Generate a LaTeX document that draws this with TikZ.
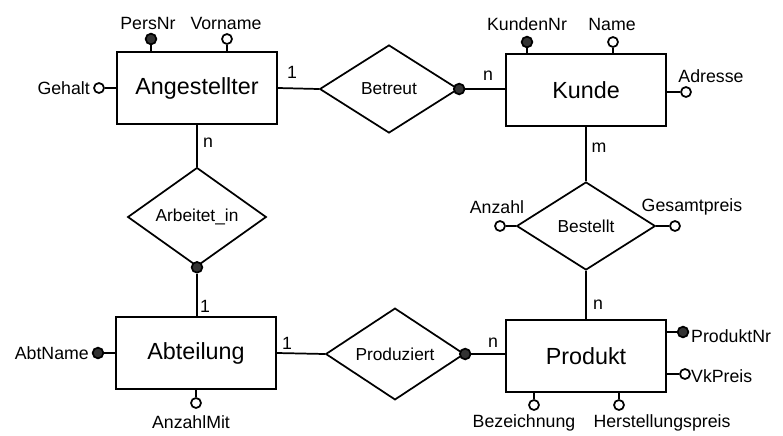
\documentclass[tikz,border=0pt]{standalone}
\usepackage{fontspec}
\setmainfont{Liberation Sans}
\usetikzlibrary{shapes.geometric}
\tikzset{
  entity/.style={draw, rectangle, minimum width=120pt, minimum height=54pt, font=\fontsize{17.5}{20}\selectfont},
  relship/.style={draw, diamond, minimum width=104pt, minimum height=66pt, inner sep=0pt, font=\fontsize{13}{15}\selectfont},
  keydot/.style={circle, draw, fill=black!80, inner sep=0pt, minimum size=8pt},
  attrdot/.style={circle, draw, fill=white, inner sep=0pt, minimum size=7.5pt},
  attrlbl/.style={inner sep=1pt, font=\fontsize{13.3}{15}\selectfont},
  card/.style={inner sep=0pt, font=\fontsize{13.3}{15}\selectfont}
}
\begin{document}
\begin{tikzpicture}[x=0.75pt, y=-0.75pt, line width=1.3pt]
            \useasboundingbox (0,0) rectangle (783,436);
            \node[entity] (ang) at (197,88) {Angestellter};
            \node[entity] (kun) at (586,90) {Kunde};
            \node[entity] (abt) at (196,353) {Abteilung};
            \node[entity] (prd) at (586,356) {Produkt};
            \node[relship] (bet) at (389,89) {Betreut};
            \node[relship] (arb) at (197,217) {Arbeitet\_in};
            \node[relship] (bst) at (586,226) {Bestellt};
            \node[relship] (prz) at (395,354) {Produziert};
            \draw (ang.east) -- (bet.west);
            \node[keydot] (betdot) at (bet.east) {};
            \draw (betdot) -- (betdot -| kun.west);
            \draw (ang.south) -- (arb.north);
            \node[keydot] (arbdot) at (arb.south) {};
            \draw (arbdot) -- (arbdot |- abt.north);
            \draw (abt.east) -- (prz.west);
            \node[keydot] (przdot) at (prz.east) {};
            \draw (przdot) -- (przdot -| prd.west);
            \draw (kun.south) -- (bst.north);
            \draw (bst.south) -- (prd.north);
            \node[card] (c1) at (292,72) {1};
            \node[card] (c2) at (488,76) {n};
            \node[card] (c3) at (208,143) {n};
            \node[card] (c4) at (205,306) {1};
            \node[card] (c5) at (287,343) {1};
            \node[card] (c6) at (493,343) {n};
            \node[card] (c7) at (599,148) {m};
            \node[card] (c8) at (598,305) {n};
            \node[keydot] (persnr) at (151,39) {};
            \draw (persnr) -- (persnr |- ang.north);
            \node[attrlbl] at (148,23) {PersNr};
            \node[attrdot] (vorname) at (227,39) {};
            \draw (vorname) -- (vorname |- ang.north);
            \node[attrlbl] at (226,23) {Vorname};
            \node[attrdot] (gehalt) at (99,88) {};
            \draw (gehalt) -- (gehalt -| ang.west);
            \node[attrlbl, anchor=east] at (92,88) {Gehalt};
            \node[keydot] (kundennr) at (527,42) {};
            \draw (kundennr) -- (kundennr |- kun.north);
            \node[attrlbl] at (527,24) {KundenNr};
            \node[attrdot] (name) at (613,42) {};
            \draw (name) -- (name |- kun.north);
            \node[attrlbl] at (612,24) {Name};
            \node[attrdot] (adresse) at (686,92) {};
            \draw (adresse) -- (adresse -| kun.east);
            \node[attrlbl] at (711,76) {Adresse};
            \node[attrdot] (anzahl) at (500,226) {};
            \draw (anzahl) -- (bst.west);
            \node[attrlbl] at (497,207) {Anzahl};
            \node[attrdot] (gesamt) at (675,226) {};
            \draw (gesamt) -- (bst.east);
            \node[attrlbl] at (692,207) {Gesamtpreis};
            \node[keydot] (abtname) at (98,353) {};
            \draw (abtname) -- (abtname -| abt.west);
            \node[attrlbl, anchor=east] at (91,353) {AbtName};
            \node[attrdot] (anzmit) at (196,403) {};
            \draw (anzmit) -- (anzmit |- abt.south);
            \node[attrlbl] at (191,422) {AnzahlMit};
            \node[keydot] (prodnr) at (683,332) {};
            \draw (prodnr) -- (prodnr -| prd.east);
            \node[attrlbl, anchor=west] at (689,336) {ProduktNr};
            \node[attrdot] (vkpreis) at (685,374) {};
            \draw (vkpreis) -- (vkpreis -| prd.east);
            \node[attrlbl, anchor=west] at (689,376) {VkPreis};
            \node[attrdot] (bez) at (534,405) {};
            \draw (bez) -- (bez |- prd.south);
            \node[attrlbl] at (524,423) {Bezeichnung};
            \node[attrdot] (herst) at (619,405) {};
            \draw (herst) -- (herst |- prd.south);
            \node[attrlbl] at (662,423) {Herstellungspreis};
\end{tikzpicture}
\end{document}
